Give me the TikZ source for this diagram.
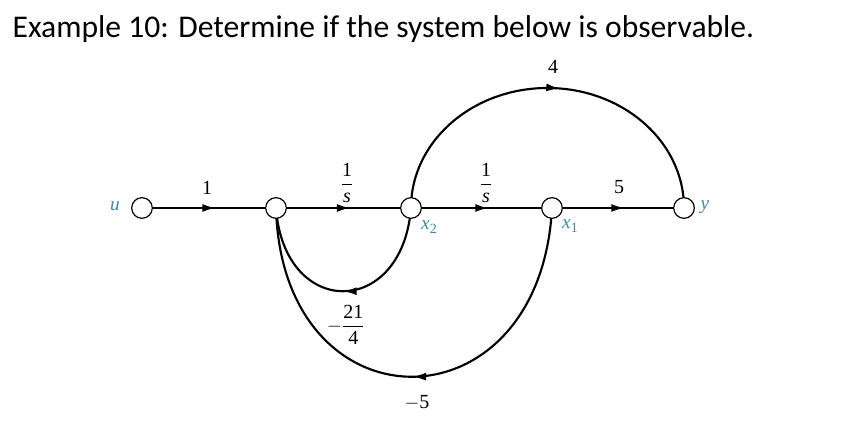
\documentclass[tikz,border=0pt]{standalone}
\usepackage{fontspec}
\setmainfont{Liberation Serif}
\newfontfamily\titlefont{Carlito}
\usetikzlibrary{arrows.meta,decorations.markings}
\definecolor{labc}{RGB}{60,140,165}
\pgfdeclarelayer{paper}
\pgfdeclarelayer{bg}
\pgfsetlayers{paper,bg,main}
\begin{document}
\begin{tikzpicture}[x=0.75pt,y=0.75pt,
  sfgnode/.style={circle,draw,fill=white,line width=0.9pt,minimum size=15.5pt,inner sep=0pt},
  branch/.style={line width=1.6pt,postaction={decorate},
    decoration={markings,mark=at position #1 with {\arrow{Latex[length=10pt,width=6pt]}}}},
  branch/.default=0.56,
  lab/.style={text=labc,font=\fontsize{14.5}{16}\selectfont\itshape},
  gain/.style={font=\fontsize{15}{17}\selectfont}]
\useasboundingbox (0,0) rectangle (865,424);
\begin{pgfonlayer}{paper}
\fill[white] (0,0) rectangle (865,424);
\end{pgfonlayer}
\node[anchor=base west,font=\titlefont\fontsize{23.7}{28}\selectfont] (title) at (8,386)
  {Example 10: Determine if the system below is observable.};
% nodes
\node[sfgnode] (u)  at (142,216) {};
\node[sfgnode] (n2) at (276,216) {};
\node[sfgnode] (x2) at (411,216) {};
\node[sfgnode] (x1) at (552,216) {};
\node[sfgnode] (y)  at (684,216) {};
% node labels
\node[lab] (lu)  at (115,218) {u};
\node[lab] (ly)  at (705,217) {y};
\node[lab] (lx2) at (429,197) {x\kern0.3pt\raisebox{-2.5pt}{\fontsize{10.5}{11}\selectfont\upshape 2}};
\node[lab] (lx1) at (570,198) {x\kern0.3pt\raisebox{-2.5pt}{\fontsize{10.5}{11}\selectfont\upshape 1}};
% connectors
\begin{pgfonlayer}{bg}
\draw[branch] (u) -- (n2);
\draw[branch] (n2) -- (x2);
\draw[branch] (x2) -- (x1);
\draw[branch] (x1) -- (y);
\draw[branch=0.53] (x2.center) arc[start angle=180,end angle=0,x radius=136.5,y radius=120];
\draw[branch=0.5] (x2.center) .. controls (402,105) and (284,105) .. (n2.center);
\draw[branch=0.5] (x1.center) .. controls (540,-9) and (282,-9) .. (n2.center);
\end{pgfonlayer}
% gains
\node[gain] (g1) at (207,236) {1};
\node[gain] (g2) at (347,241) {$\displaystyle\frac{\mbox{1}}{\mbox{\itshape s}}$};
\node[gain] (g3) at (486,241) {$\displaystyle\frac{\mbox{1}}{\mbox{\itshape s}}$};
\node[gain] (g4) at (619,237) {5};
\node[gain] (g5) at (553,357) {4};
\node[gain] (g6) at (346,99) {$\displaystyle-\frac{\mbox{21}}{\mbox{4}}$};
\node[gain] (g7) at (417,21) {$-$5};
\end{tikzpicture}
\end{document}
